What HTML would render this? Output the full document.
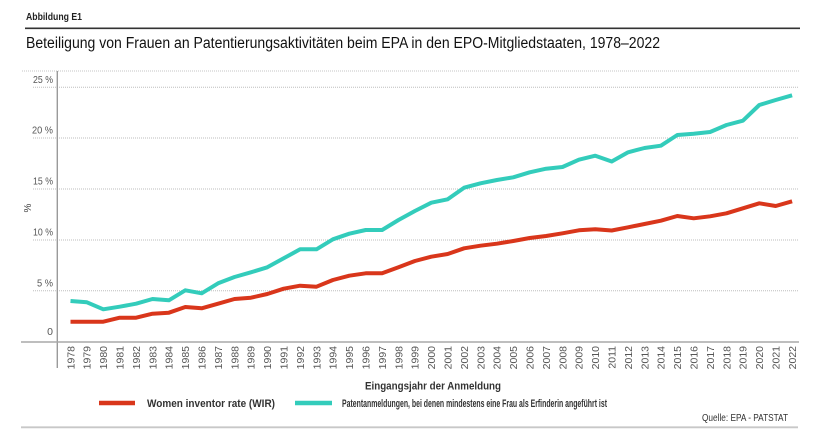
<!DOCTYPE html>
<html><head><meta charset="utf-8"><style>
html,body{margin:0;padding:0;background:#fff;}
svg{display:block;font-family:"Liberation Sans",sans-serif;}
</style></head><body>
<svg width="813" height="438" viewBox="0 0 813 438" xmlns="http://www.w3.org/2000/svg">
<rect width="813" height="438" fill="#fff"/>
<text x="26" y="20" font-size="10.5" font-weight="bold" fill="#222" textLength="56" lengthAdjust="spacingAndGlyphs">Abbildung E1</text>
<line x1="25" y1="28.3" x2="800" y2="28.3" stroke="#333" stroke-width="1.6"/>
<text x="26" y="48" font-size="15.5" fill="#111" textLength="634" lengthAdjust="spacingAndGlyphs">Beteiligung von Frauen an Patentierungsaktivitäten beim EPA in den EPO-Mitgliedstaaten, 1978–2022</text>

<!-- top dotted border -->
<line x1="22" y1="71" x2="799" y2="71" stroke="#c4c4c4" stroke-width="1" stroke-dasharray="1,1"/>
<!-- gridlines -->
<g stroke="#bdbdbd" stroke-width="1" stroke-dasharray="1,1">
<line x1="33" y1="87.3" x2="799" y2="87.3"/>
<line x1="33" y1="138" x2="799" y2="138"/>
<line x1="33" y1="189" x2="799" y2="189"/>
<line x1="33" y1="240" x2="799" y2="240"/>
<line x1="33" y1="290.8" x2="799" y2="290.8"/>
</g>
<!-- y labels -->
<g font-size="10.5" fill="#555" text-anchor="end">
<text x="53" y="83" textLength="20" lengthAdjust="spacingAndGlyphs">25 %</text>
<text x="53" y="133.5" textLength="21" lengthAdjust="spacingAndGlyphs">20 %</text>
<text x="53" y="184.5" textLength="20" lengthAdjust="spacingAndGlyphs">15 %</text>
<text x="53" y="235.5" textLength="20" lengthAdjust="spacingAndGlyphs">10 %</text>
<text x="53" y="286.5" textLength="16" lengthAdjust="spacingAndGlyphs">5 %</text>
<text x="53" y="335">0</text>
</g>
<text transform="translate(31,208) rotate(-90)" font-size="10" fill="#444" text-anchor="middle">%</text>

<!-- axes -->
<line x1="57.3" y1="71" x2="57.3" y2="368" stroke="#9a9a9a" stroke-width="1.4"/>
<line x1="21" y1="342" x2="799" y2="342" stroke="#a8a8a8" stroke-width="1.4"/>

<!-- x labels -->
<g font-size="10.5" fill="#555" text-anchor="end">
<text transform="translate(74.3,346) rotate(-90)">1978</text>
<text transform="translate(90.7,346) rotate(-90)">1979</text>
<text transform="translate(107.1,346) rotate(-90)">1980</text>
<text transform="translate(123.5,346) rotate(-90)">1981</text>
<text transform="translate(139.9,346) rotate(-90)">1982</text>
<text transform="translate(156.3,346) rotate(-90)">1983</text>
<text transform="translate(172.7,346) rotate(-90)">1984</text>
<text transform="translate(189.1,346) rotate(-90)">1985</text>
<text transform="translate(205.5,346) rotate(-90)">1986</text>
<text transform="translate(221.9,346) rotate(-90)">1987</text>
<text transform="translate(238.3,346) rotate(-90)">1988</text>
<text transform="translate(254.7,346) rotate(-90)">1989</text>
<text transform="translate(271.1,346) rotate(-90)">1990</text>
<text transform="translate(287.5,346) rotate(-90)">1991</text>
<text transform="translate(303.9,346) rotate(-90)">1992</text>
<text transform="translate(320.3,346) rotate(-90)">1993</text>
<text transform="translate(336.7,346) rotate(-90)">1994</text>
<text transform="translate(353.1,346) rotate(-90)">1995</text>
<text transform="translate(369.5,346) rotate(-90)">1996</text>
<text transform="translate(385.9,346) rotate(-90)">1997</text>
<text transform="translate(402.3,346) rotate(-90)">1998</text>
<text transform="translate(418.7,346) rotate(-90)">1999</text>
<text transform="translate(435.1,346) rotate(-90)">2000</text>
<text transform="translate(451.5,346) rotate(-90)">2001</text>
<text transform="translate(467.9,346) rotate(-90)">2002</text>
<text transform="translate(484.3,346) rotate(-90)">2003</text>
<text transform="translate(500.7,346) rotate(-90)">2004</text>
<text transform="translate(517.1,346) rotate(-90)">2005</text>
<text transform="translate(533.5,346) rotate(-90)">2006</text>
<text transform="translate(549.9,346) rotate(-90)">2007</text>
<text transform="translate(566.3,346) rotate(-90)">2008</text>
<text transform="translate(582.7,346) rotate(-90)">2009</text>
<text transform="translate(599.1,346) rotate(-90)">2010</text>
<text transform="translate(615.5,346) rotate(-90)">2011</text>
<text transform="translate(631.9,346) rotate(-90)">2012</text>
<text transform="translate(648.3,346) rotate(-90)">2013</text>
<text transform="translate(664.7,346) rotate(-90)">2014</text>
<text transform="translate(681.1,346) rotate(-90)">2015</text>
<text transform="translate(697.5,346) rotate(-90)">2016</text>
<text transform="translate(713.9,346) rotate(-90)">2017</text>
<text transform="translate(730.3,346) rotate(-90)">2018</text>
<text transform="translate(746.7,346) rotate(-90)">2019</text>
<text transform="translate(763.1,346) rotate(-90)">2020</text>
<text transform="translate(779.5,346) rotate(-90)">2021</text>
<text transform="translate(795.9,346) rotate(-90)">2022</text>
</g>

<!-- series -->
<polyline fill="none" stroke="#33ccbb" stroke-width="4" stroke-linejoin="round" stroke-linecap="butt" points="70.5,301 86.9,302.3 103.3,309.3 119.7,306.7 136.1,303.7 152.5,299 168.9,300.3 185.3,290.3 201.7,293.3 218.1,283.3 234.5,277 250.9,272.3 267.3,267.3 283.7,258.3 300.1,249.3 316.5,249.3 332.9,239.3 349.3,233.7 365.7,230 382.1,230 398.5,220 414.9,211 431.3,202.7 447.7,199.3 464.1,187.7 480.5,183.3 496.9,180 513.3,177.3 529.7,172.3 546.1,168.7 562.5,167 578.9,159.7 595.3,155.7 611.7,161.5 628.1,152.3 644.5,148 660.9,145.7 677.3,135 693.7,133.7 710.1,132 726.5,125 742.9,120.7 759.3,105 775.7,100 792.1,95.3"/>
<polyline fill="none" stroke="#d9361b" stroke-width="4" stroke-linejoin="round" stroke-linecap="butt" points="70.5,321.7 86.9,321.7 103.3,321.7 119.7,317.7 136.1,317.7 152.5,313.7 168.9,312.7 185.3,307 201.7,308.3 218.1,303.7 234.5,299 250.9,297.7 267.3,294 283.7,288.7 300.1,285.7 316.5,286.7 332.9,280 349.3,275.7 365.7,273.3 382.1,273.3 398.5,267.3 414.9,261 431.3,256.7 447.7,254 464.1,248.3 480.5,245.7 496.9,243.7 513.3,241 529.7,238 546.1,236 562.5,233.3 578.9,230.3 595.3,229.3 611.7,230.5 628.1,227.3 644.5,224 660.9,220.7 677.3,216 693.7,218.3 710.1,216.3 726.5,213.3 742.9,208.3 759.3,203.3 775.7,206 792.1,201.3"/>

<!-- axis title -->
<text x="433" y="389.5" font-size="11" font-weight="bold" fill="#333" text-anchor="middle" textLength="136" lengthAdjust="spacingAndGlyphs">Eingangsjahr der Anmeldung</text>

<!-- legend -->
<line x1="99" y1="403" x2="135" y2="403" stroke="#d9361b" stroke-width="4.5"/>
<text x="147" y="407" font-size="11" font-weight="bold" fill="#333" textLength="128" lengthAdjust="spacingAndGlyphs">Women inventor rate (WIR)</text>
<line x1="295" y1="403" x2="332" y2="403" stroke="#33ccbb" stroke-width="4.5"/>
<text x="342" y="407" font-size="11" font-weight="bold" fill="#333" textLength="265" lengthAdjust="spacingAndGlyphs">Patentanmeldungen, bei denen mindestens eine Frau als Erfinderin angeführt ist</text>

<text x="788" y="421" font-size="10" fill="#333" text-anchor="end" textLength="86" lengthAdjust="spacingAndGlyphs">Quelle: EPA - PATSTAT</text>
<line x1="21" y1="427.3" x2="798" y2="427.3" stroke="#c8c8c8" stroke-width="1.8"/>
</svg>
</body></html>
